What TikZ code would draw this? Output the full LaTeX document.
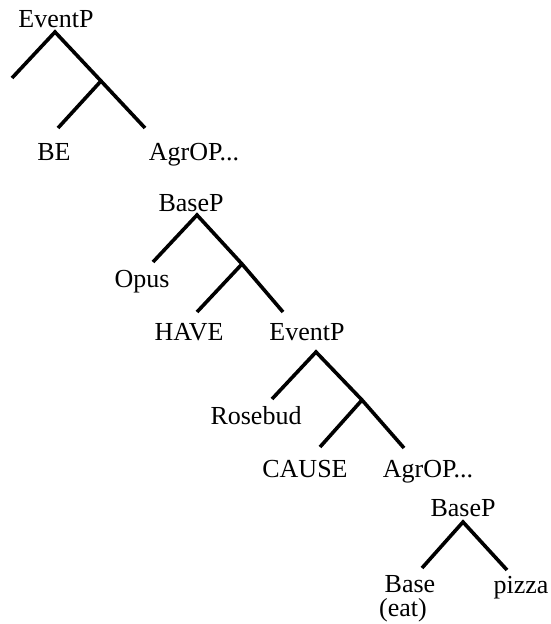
\documentclass[tikz,border=0pt]{standalone}
\usepackage{fontspec}
\setmainfont{Liberation Serif}
\begin{document}
\begin{tikzpicture}[x=1pt,y=-1pt,
  lbl/.style={anchor=base,inner sep=0pt,font=\fontsize{26}{28}\selectfont},
  branch/.style={line width=3.6pt,line join=miter}]
\useasboundingbox (0,0) rectangle (550,624);
% labels
\node[lbl] (ev1) at (56,27) {EventP};
\node[lbl] (be) at (54,160) {BE};
\node[lbl] (agr1) at (194,160) {AgrOP...};
\node[lbl] (bp1) at (191,211) {BaseP};
\node[lbl] (opus) at (142,287) {Opus};
\node[lbl] (have) at (189,340) {HAVE};
\node[lbl] (ev2) at (307,340) {EventP};
\node[lbl] (rose) at (256,424) {Rosebud};
\node[lbl] (cause) at (305,477) {CAUSE};
\node[lbl] (agr2) at (428,477) {AgrOP...};
\node[lbl] (bp2) at (463,516) {BaseP};
\node[lbl] (base) at (410,592) {Base};
\node[lbl] (eat) at (403,616) {(eat)};
\node[lbl] (pizza) at (521,593) {pizza};
% branch points
\coordinate (a1) at (55,32);
\coordinate (l1) at (12,78);
\coordinate (m1) at (101,81);
\coordinate (ml1) at (58,128);
\coordinate (mr1) at (145,128);
\coordinate (a2) at (197,215);
\coordinate (l2) at (153,262);
\coordinate (m2) at (242,264);
\coordinate (ml2) at (197,312);
\coordinate (mr2) at (283,312);
\coordinate (a3) at (316,352);
\coordinate (l3) at (272,399);
\coordinate (m3) at (362,400);
\coordinate (ml3) at (320,447);
\coordinate (mr3) at (404,448);
\coordinate (a4) at (463,522);
\coordinate (l4) at (422,568);
\coordinate (r4) at (507,570);
% branches
\draw[branch] (l1) -- (a1) -- (m1) -- (mr1);
\draw[branch] (ml1) -- (m1);
\draw[branch] (l2) -- (a2) -- (m2) -- (mr2);
\draw[branch] (ml2) -- (m2);
\draw[branch] (l3) -- (a3) -- (m3) -- (mr3);
\draw[branch] (ml3) -- (m3);
\draw[branch] (l4) -- (a4) -- (r4);
\end{tikzpicture}
\end{document}
